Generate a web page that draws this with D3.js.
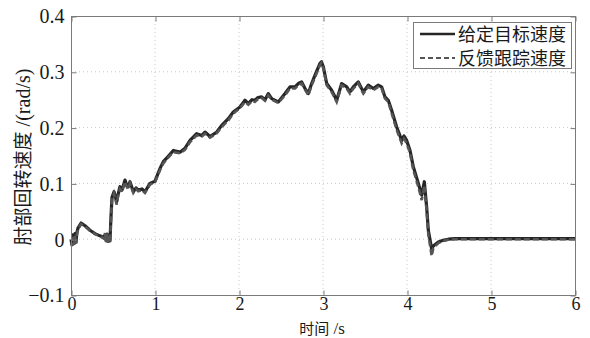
<!DOCTYPE html>
<html><head><meta charset="utf-8">
<script src="https://cdn.jsdelivr.net/npm/d3@7"></script>
<style>
html,body{margin:0;padding:0;background:#fff;}
svg{display:block;}
text{font-family:"Liberation Serif","Times New Roman",serif;}
.cjk{font-family:"Noto Sans CJK SC",sans-serif;}
.lat{font-family:"Liberation Serif",serif;}
</style></head>
<body><svg id="c" width="590" height="338"></svg>
<script>
// ---- data ----
const seriesNames = ["给定目标速度", "反馈跟踪速度"];
const xTicks = [0, 1, 2, 3, 4, 5, 6];
const yTicks = [-0.1, 0, 0.1, 0.2, 0.3, 0.4];
const yTickLabels = ["\u22120.1", "0", "0.1", "0.2", "0.3", "0.4"];
const xLabelParts = ["时间", " /s"];
const yLabelParts = ["肘部回转速度", " /(rad/s)"];
const time = [0, 0.012, 0.024, 0.036, 0.048, 0.06, 0.07, 0.083, 0.12, 0.167, 0.226, 0.286, 0.345, 0.393, 0.405, 0.417, 0.429, 0.44, 0.452, 0.464, 0.476, 0.488, 0.512, 0.544, 0.56, 0.583, 0.607, 0.643, 0.667, 0.682, 0.702, 0.742, 0.774, 0.801, 0.845, 0.881, 0.94, 1.0, 1.06, 1.099, 1.155, 1.218, 1.298, 1.357, 1.417, 1.496, 1.556, 1.595, 1.655, 1.735, 1.794, 1.873, 1.932, 2.012, 2.071, 2.111, 2.155, 2.19, 2.226, 2.27, 2.31, 2.349, 2.389, 2.468, 2.548, 2.607, 2.667, 2.706, 2.746, 2.786, 2.825, 2.865, 2.905, 2.964, 2.982, 3.004, 3.044, 3.103, 3.163, 3.222, 3.282, 3.321, 3.361, 3.42, 3.48, 3.539, 3.599, 3.658, 3.698, 3.738, 3.777, 3.817, 3.877, 3.937, 3.964, 3.996, 4.036, 4.075, 4.135, 4.175, 4.206, 4.234, 4.254, 4.294, 4.313, 4.373, 4.43, 4.492, 4.571, 4.8, 5.0, 5.3, 5.6, 6.0];
const target = [0.0, -0.01, 0.008, -0.008, 0.01, -0.005, 0.012, 0.02, 0.029, 0.024, 0.016, 0.01, 0.006, 0.003, 0.008, -0.002, 0.009, -0.004, 0.006, -0.003, 0.04, 0.075, 0.085, 0.067, 0.08, 0.094, 0.088, 0.106, 0.095, 0.094, 0.103, 0.085, 0.092, 0.088, 0.09, 0.085, 0.1, 0.104, 0.127, 0.139, 0.148, 0.159, 0.156, 0.163, 0.177, 0.189, 0.186, 0.192, 0.184, 0.192, 0.204, 0.216, 0.228, 0.237, 0.249, 0.243, 0.25, 0.249, 0.254, 0.255, 0.25, 0.261, 0.252, 0.246, 0.261, 0.273, 0.273, 0.279, 0.282, 0.27, 0.261, 0.279, 0.294, 0.315, 0.318, 0.309, 0.279, 0.267, 0.249, 0.279, 0.273, 0.264, 0.273, 0.282, 0.264, 0.276, 0.27, 0.276, 0.273, 0.255, 0.249, 0.231, 0.201, 0.177, 0.185, 0.177, 0.159, 0.13, 0.1, 0.079, 0.103, 0.058, 0.016, -0.018, -0.012, -0.005, -0.002, 0.0, 0.001, 0.001, 0.001, 0.001, 0.001, 0.001];
const feedback = [-0.006, -0.012, 0.004, -0.01, 0.006, -0.008, 0.008, 0.017, 0.027, 0.023, 0.015, 0.009, 0.005, 0.001, 0.011, -0.005, 0.01, -0.006, 0.008, -0.006, 0.035, 0.07, 0.082, 0.062, 0.077, 0.09, 0.085, 0.103, 0.093, 0.09, 0.1, 0.083, 0.09, 0.086, 0.088, 0.083, 0.098, 0.102, 0.124, 0.136, 0.146, 0.156, 0.154, 0.16, 0.174, 0.186, 0.184, 0.189, 0.182, 0.19, 0.201, 0.213, 0.225, 0.235, 0.246, 0.241, 0.247, 0.246, 0.251, 0.253, 0.248, 0.258, 0.25, 0.244, 0.258, 0.27, 0.27, 0.276, 0.279, 0.268, 0.258, 0.276, 0.29, 0.312, 0.316, 0.306, 0.276, 0.264, 0.246, 0.276, 0.27, 0.261, 0.27, 0.279, 0.261, 0.273, 0.267, 0.273, 0.27, 0.252, 0.246, 0.226, 0.196, 0.172, 0.18, 0.172, 0.154, 0.124, 0.094, 0.07, 0.096, 0.05, 0.008, -0.03, -0.016, -0.007, -0.003, -0.001, 0.0, 0.0, 0.0, 0.0, 0.0, 0.0];

// ---- layout ----
const svg = d3.select("#c");
const L = 71, R = 575, T = 16, B = 295;
const x = d3.scaleLinear().domain([0, 6]).range([L, R]);
const y = d3.scaleLinear().domain([-0.1, 0.4]).range([B, T]);
const axisCol = "#7a7a7a";

// grid
const g = svg.append("g");
g.selectAll(".gx").data(xTicks.slice(1, -1)).enter().append("line")
  .attr("x1", d => x(d)).attr("x2", d => x(d)).attr("y1", T).attr("y2", B)
  .attr("stroke", "#c8c8c8").attr("stroke-width", 1).attr("stroke-dasharray", "1,3");
g.selectAll(".gy").data(yTicks.slice(1, -1)).enter().append("line")
  .attr("x1", L).attr("x2", R).attr("y1", d => y(d)).attr("y2", d => y(d))
  .attr("stroke", "#c8c8c8").attr("stroke-width", 1).attr("stroke-dasharray", "1,3");

// lines
const pts = (arr) => time.map((t, i) => [t, arr[i]]);
const line = d3.line().x(d => x(d[0])).y(d => y(d[1]));
svg.append("path").datum(pts(target)).attr("d", line).attr("fill", "none")
  .attr("stroke", "#262626").attr("stroke-width", 3.2).attr("stroke-linejoin", "round");
svg.append("path").datum(pts(feedback)).attr("d", line).attr("fill", "none")
  .attr("stroke", "#555").attr("stroke-width", 2.6).attr("stroke-dasharray", "6,3");

// axes (box with inward ticks)
const ax = svg.append("g");
ax.append("rect").attr("x", L + 0.5).attr("y", T + 0.5).attr("width", R - L).attr("height", B - T)
  .attr("fill", "none").attr("stroke", axisCol).attr("stroke-width", 1);
const xb = d3.axisBottom(x).tickValues(xTicks).tickSize(-5).tickFormat(d => d).tickPadding(2);
const xa = ax.append("g").attr("transform", `translate(0.5,${B + 0.5})`).call(xb);
xa.select(".domain").remove();
xa.selectAll(".tick line").attr("stroke", axisCol);
xa.selectAll("text").attr("font-size", 18).attr("fill", "#1a1a1a").attr("font-family", "Liberation Serif");
const xt = d3.axisTop(x).tickValues(xTicks).tickSize(-5).tickFormat("");
const xta = ax.append("g").attr("transform", `translate(0.5,${T + 0.5})`).call(xt);
xta.select(".domain").remove(); xta.selectAll(".tick line").attr("stroke", axisCol);
const yl = d3.axisLeft(y).tickValues(yTicks).tickSize(-5).tickFormat((d, i) => yTickLabels[i]).tickPadding(7);
const ya = ax.append("g").attr("transform", `translate(${L + 0.5},0.5)`).call(yl);
ya.select(".domain").remove();
ya.selectAll(".tick line").attr("stroke", axisCol);
ya.selectAll("text").attr("font-size", 20).attr("fill", "#1a1a1a").attr("font-family", "Liberation Serif");
const yr = d3.axisRight(y).tickValues(yTicks).tickSize(-5).tickFormat("");
const yra = ax.append("g").attr("transform", `translate(${R + 0.5},0.5)`).call(yr);
yra.select(".domain").remove(); yra.selectAll(".tick line").attr("stroke", axisCol);

// axis titles
const xl = svg.append("text").attr("x", 322).attr("y", 333.5).attr("text-anchor", "middle").attr("fill", "#1a1a1a");
xl.append("tspan").attr("class", "cjk").attr("font-size", 15).text(xLabelParts[0]);
xl.append("tspan").attr("class", "lat").attr("font-size", 17).text(xLabelParts[1]);
const yt = svg.append("text").attr("transform", "translate(30,157) rotate(-90)").attr("text-anchor", "middle").attr("fill", "#1a1a1a");
yt.append("tspan").attr("class", "cjk").attr("font-size", 19).text(yLabelParts[0]);
yt.append("tspan").attr("class", "lat").attr("font-size", 20).text(yLabelParts[1]);

// legend
const lg = svg.append("g");
lg.append("rect").attr("x", 413.5).attr("y", 22.5).attr("width", 158).attr("height", 46)
  .attr("fill", "#fff").attr("stroke", axisCol).attr("stroke-width", 1);
seriesNames.forEach((name, i) => {
  const cy = 34 + i * 24;
  lg.append("line").attr("x1", 420).attr("x2", 455).attr("y1", cy).attr("y2", cy)
    .attr("stroke", i === 0 ? "#262626" : "#555").attr("stroke-width", i === 0 ? 2.5 : 2.2)
    .attr("stroke-dasharray", i === 0 ? null : "5,3");
  lg.append("text").attr("class", "cjk").attr("x", 458).attr("y", cy + 6.5).attr("font-size", 18)
    .attr("fill", "#1a1a1a").text(name);
});
</script></body></html>
